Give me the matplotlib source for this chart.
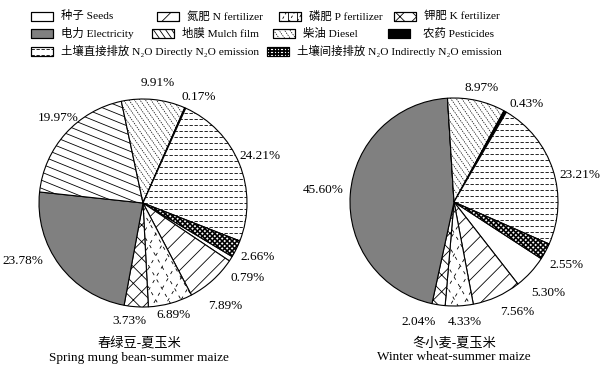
import matplotlib
matplotlib.use('Agg')
import matplotlib.pyplot as plt
import numpy as np
from matplotlib.patches import Rectangle

plt.rcParams['font.family'] = ['Liberation Serif', 'Noto Sans CJK SC', 'DejaVu Serif']
plt.rcParams['hatch.linewidth'] = 0.6

# data (percent of total emission), legend order
sources = ['种子 Seeds', '氮肥 N fertilizer', '磷肥 P fertilizer', '钾肥 K fertilizer',
           '电力 Electricity', '地膜 Mulch film', '柴油 Diesel', '农药 Pesticides',
           '土壤直接排放 N₂O Directly N₂O emission',
           '土壤间接排放 N₂O Indirectly N₂O emission']
mung_maize = [0.79, 7.89, 6.89, 3.73, 23.78, 19.97, 9.91, 0.17, 24.21, 2.66]
wheat_maize = [5.30, 7.56, 4.33, 2.04, 45.60, 0, 8.97, 0.43, 23.21, 2.55]
titles = ['春绿豆-夏玉米\nSpring mung bean-summer maize',
          '冬小麦-夏玉米\nWinter wheat-summer maize']

# styles
faces = ['white', 'white', 'white', 'white', '#808080', 'white', 'white', 'black', 'white', 'white']
hatches = ['', '//', '', 'xx', '', '', '', '', '', '']
# hand drawn fills: index -> list of (angle deg, spacing px, linestyle, linewidth)
line_fills = {
    2: [(60, 11, (0, (4, 6)), 0.6), (-60, 11, (5, (4, 6)), 0.6)],
    5: [(-22, 7.5, '-', 0.6)],
    6: [(-55, 4.5, (0, (2, 1.5)), 0.5)],
    8: [(0, 6, (0, (4, 2)), 0.6)],
    9: [(45, 3.5, '-', 1.2), (-45, 3.5, '-', 1.2)],
}
legend_fills = dict(line_fills)
legend_fills[2] = [(60, 7, (0, (3, 3)), 0.6), (90, 9, '-', 0.6)]
legend_fills[5] = [(-55, 5, '-', 0.6)]
legend_fills[9] = [(0, 3.2, '-', 1.3), (90, 3.4, '-', 1.3)]

W, H = 606, 371


def line_fill(ax, patch, cx, cy, size, angle, step, ls, lw, z=2):
    a = np.deg2rad(angle)
    u = np.array([np.cos(a), np.sin(a)])
    n = np.array([-np.sin(a), np.cos(a)])
    c = np.array([cx, cy])
    for d in np.arange(-size, size + step, step):
        p0 = c + d * n - size * u
        p1 = c + d * n + size * u
        ln, = ax.plot([p0[0], p1[0]], [p0[1], p1[1]], color='black', ls=ls, lw=lw,
                      solid_capstyle='butt', zorder=z)
        ln.set_clip_path(patch)


fig = plt.figure(figsize=(W / 100, H / 100), dpi=100)
lax = fig.add_axes([0, 0, 1, 1])
lax.set_xlim(0, W)
lax.set_ylim(0, H)
lax.axis('off')

# legend, placed by hand (box left x, row y from top) in pixels
leg_pos = [(31, 16), (157, 16), (279, 16), (394, 16),
           (31, 33), (152, 33), (273, 33), (388, 33),
           (31, 51), (267, 51)]
for i, (x, y) in enumerate(leg_pos):
    box = Rectangle((x, H - y - 4.5), 22, 9, facecolor=faces[i], hatch=hatches[i],
                    edgecolor='black', lw=0.8, zorder=3)
    lax.add_patch(box)
    for ang, step, ls, lw in legend_fills.get(i, []):
        line_fill(lax, box, x + 11, H - y, 16, ang, step, ls, lw, z=4)
    edge = Rectangle((x, H - y - 4.5), 22, 9, fill=False, edgecolor='black', lw=0.8, zorder=5)
    lax.add_patch(edge)
    tx = x + 30 if i != 7 else x + 35
    lax.text(tx, H - y, sources[i], fontsize=8.2, va='center', ha='left')

# pies
centers = [(143, 203), (454, 202)]
starts = [-31, -33]
# label placement: (angle nudge in degrees, radius as fraction of pie radius)
nudges = [
    [(-3, 1.24), (-3.5, 1.27), (0, 1.12), (-3, 1.14), (-11, 1.28), (-3, 1.16),
     (-1, 1.16), (-4, 1.15), (0, 1.21), (1, 1.22)],
    [(-1.5, 1.26), (5.5, 1.22), (2.3, 1.16), (-8, 1.2), (-1, 1.26), (0, 1.2),
     (-1, 1.13), (-7, 1.17), (-6, 1.24), (-1, 1.24)],
]
half = 130
px = 2.5 / (2 * half)  # data units per pixel
for k, vals in enumerate([mung_maize, wheat_maize]):
    cx, cy = centers[k]
    ax = fig.add_axes([(cx - half) / W, 1 - (cy + half) / H, 2 * half / W, 2 * half / H])
    wedges, _ = ax.pie(vals, startangle=starts[k], counterclock=False, colors=faces,
                       hatch=hatches, wedgeprops=dict(edgecolor='black', linewidth=0.8))
    for i, w in enumerate(wedges):
        if vals[i] == 0:
            continue
        for ang, step, ls, lw in line_fills.get(i, []):
            line_fill(ax, w, 0, 0, 1.1, ang, step * px, ls, lw)
        da, r = nudges[k][i]
        a = np.deg2rad((w.theta1 + w.theta2) / 2 + da)
        ax.text(r * np.cos(a), r * np.sin(a), '%.2f%%' % vals[i], fontsize=9.5,
                ha='center', va='center')
    ax.set_xlim(-1.25, 1.25)
    ax.set_ylim(-1.25, 1.25)
    ax.set_aspect('auto')
    ax.axis('off')
    lax.text(cx - 4 if k == 0 else cx, H - 350, titles[k], fontsize=9.5, ha='center',
             va='center', linespacing=1.25)

plt.savefig('out.png', dpi=100)
